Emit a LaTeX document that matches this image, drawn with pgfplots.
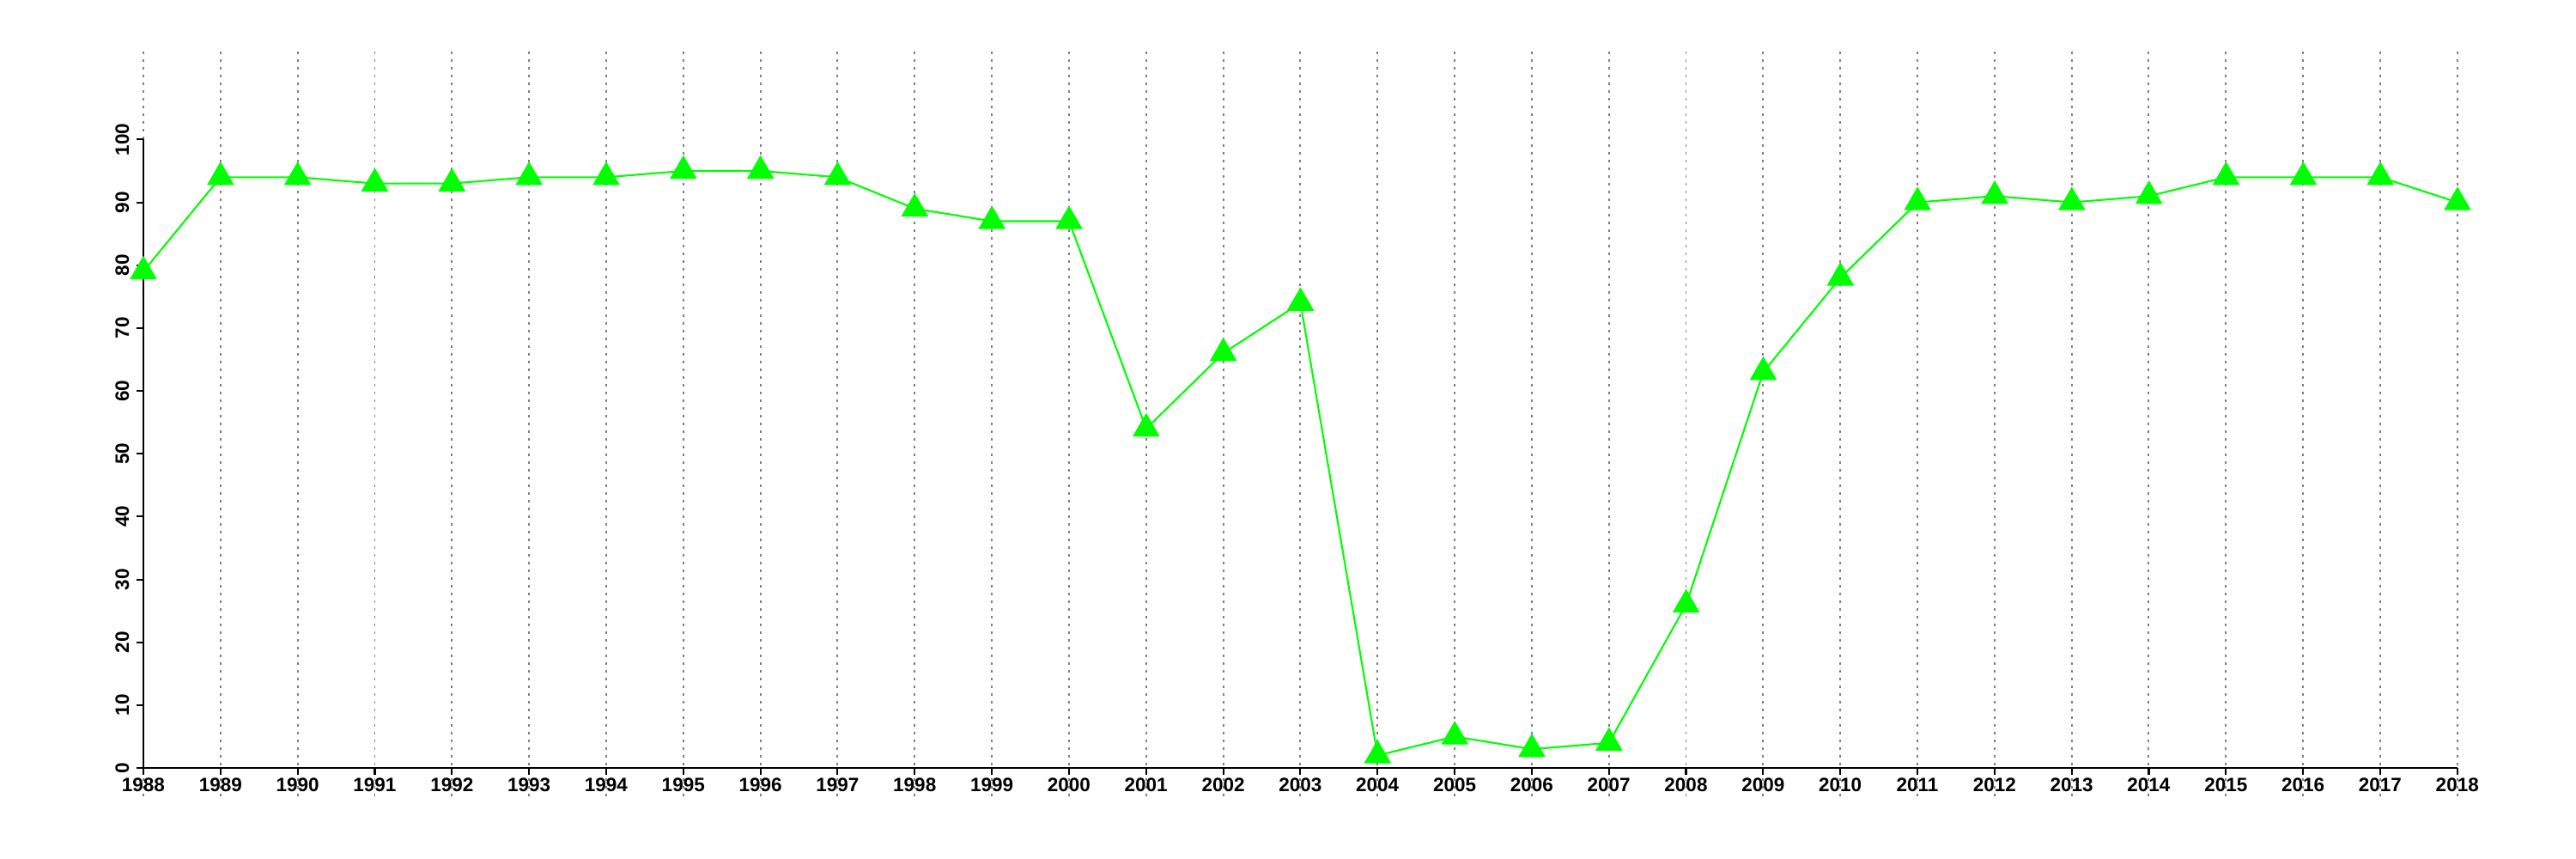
\documentclass[border=0pt]{standalone}
\usepackage{fontspec}
\setmainfont{Liberation Sans}
\usepackage{pgfplots}
\pgfplotsset{compat=1.18}
\definecolor{linegreen}{HTML}{00FF00}
\definecolor{gridgray}{HTML}{808080}

\pgfplotstableread{
year value
1988 79
1989 94
1990 94
1991 93
1992 93
1993 94
1994 94
1995 95
1996 95
1997 94
1998 89
1999 87
2000 87
2001 54
2002 66
2003 74
2004 2
2005 5
2006 3
2007 4
2008 26
2009 63
2010 78
2011 90
2012 91
2013 90
2014 91
2015 94
2016 94
2017 94
2018 90
}\datatable

\begin{document}
\begin{tikzpicture}
% keep the reference's white margins
\path[use as bounding box] (-1.67cm,-0.73cm) rectangle (28.33cm,9.27cm);
\begin{axis}[
    scale only axis,
    width=26.95cm,
    height=8.67cm,
    xmin=1988, xmax=2018,
    ymin=-4.5, ymax=114,
    clip=false,
    axis x line=middle,
    axis y line=left,
    x axis line style={-, line width=0.6pt},
    y axis line style={draw=none},
    xtick={1988,...,2018},
    ytick={0,10,...,100},
    xtick align=outside,
    ytick align=outside,
    major tick length=0.8mm,
    tick style={black, line width=0.6pt},
    hide obscured x ticks=false,
    hide obscured y ticks=false,
    /pgf/number format/assume math mode=true,
    x tick label style={/pgf/number format/1000 sep={}, font=\fontsize{6.4}{7}\selectfont\bfseries, anchor=north, inner sep=0.3mm},
    y tick label style={font=\fontsize{6.4}{7}\selectfont\bfseries, rotate=90, anchor=south, inner sep=0.8mm},
    xmajorgrids,
    major grid style={gridgray, line width=0.55pt, dash pattern=on 0.3mm off 0.6mm},
    ]
    \addplot[linegreen, line width=0.6pt, mark=triangle*, mark size=4.6pt,
        mark options={fill=linegreen, draw=none}] table[x=year, y=value] {\datatable};
    \draw[black, line width=0.6pt] (axis cs:1988,0) -- (axis cs:1988,100);
\end{axis}
\end{tikzpicture}
\end{document}
